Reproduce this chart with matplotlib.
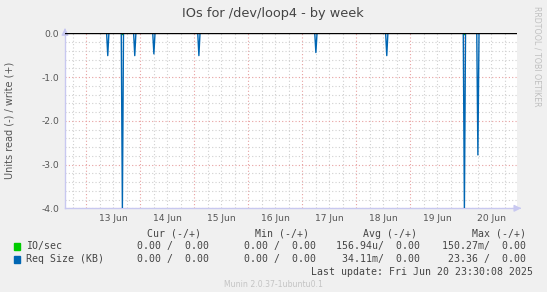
import numpy as np
import matplotlib
matplotlib.use("Agg")
import matplotlib.pyplot as plt

# days counted from 13 Jun 00:00
day_labels = ["13 Jun", "14 Jun", "15 Jun", "16 Jun", "17 Jun", "18 Jun", "19 Jun", "20 Jun"]
t_start, t_end = -0.39, 7.98

# read side (negative) spikes of Req Size (KB)
spike_days = [0.394, 0.672, 0.894, 1.265, 2.08, 4.26, 5.56, 7.0, 7.265]
spike_vals = [-0.51, -4.0, -0.51, -0.47, -0.51, -0.44, -0.51, -4.0, -2.78]
# IO/sec read spikes (hidden mostly under the blue ones)
io_days = [0.672, 7.0]
io_vals = [-0.03, -0.03]

y_ticks = [0.0, -1.0, -2.0, -3.0, -4.0]

legend_rows = [
    ("IO/sec", "#00cc00", ["0.00 /  0.00", "0.00 /  0.00", "156.94u/  0.00", "150.27m/  0.00"]),
    ("Req Size (KB)", "#0066b3", ["0.00 /  0.00", "0.00 /  0.00", "34.11m/  0.00", "23.36 /  0.00"]),
]
col_heads = ["Cur (-/+)", "Min (-/+)", "Avg (-/+)", "Max (-/+)"]

# 30 minute samples like rrd week view
t = np.arange(t_start, t_end, 1 / 48)
req = np.zeros_like(t)
for d, v in zip(spike_days, spike_vals):
    req[np.argmin(np.abs(t - d))] = v
io = np.zeros_like(t)
for d, v in zip(io_days, io_vals):
    io[np.argmin(np.abs(t - d))] = v

W, H = 547, 292
bg = "#f0f0f0"
fig = plt.figure(figsize=(W / 100, H / 100), dpi=100, facecolor=bg)
ax = fig.add_axes([65 / W, 1 - 208.3 / H, (517 - 65) / W, 175 / H])
ax.set_facecolor("white")
ax.set_xlim(t_start, t_end)
ax.set_ylim(-4.0, 0.0)

# grid
for x in np.arange(-0.25, t_end, 0.25):
    major = abs(x - round(x)) < 1e-6
    ax.axvline(x, color="#e8a0a0" if major else "#d0d0d0", lw=0.8,
               ls=(0, (1, 2)), zorder=1)
for y in np.arange(-4.0, 0.01, 0.2):
    major = abs(y - round(y)) < 1e-6
    ax.axhline(y, color="#e8a0a0" if major else "#d0d0d0", lw=0.8,
               ls=(0, (1, 2)), zorder=1)

ax.plot(t, io, color="#00cc00", lw=1, zorder=3)
ax.plot(t, req, color="#0066b3", lw=1, zorder=4)
ax.axhline(0, color="black", lw=1, zorder=5)

for s in ["top", "right"]:
    ax.spines[s].set_visible(False)
for s in ["left", "bottom"]:
    ax.spines[s].set_color("#c8c8f0")
    ax.spines[s].set_linewidth(1)

ax.set_yticks(y_ticks)
ax.set_yticklabels(["%.1f" % v for v in y_ticks])
ax.set_xticks([i + 0.5 for i in range(len(day_labels))])
ax.set_xticklabels(day_labels)
ax.tick_params(length=0, labelsize=6.6, labelcolor="#555555", pad=4)

# axis arrows
ax.annotate("", xy=(0, 1), xytext=(0, 8), xycoords="axes fraction",
            textcoords="offset pixels",
            arrowprops=dict(arrowstyle="<|-", color="#c8c8f0", lw=1),
            annotation_clip=False)
ax.annotate("", xy=(1.0, 0), xytext=(7, 0), xycoords="axes fraction",
            textcoords="offset pixels",
            arrowprops=dict(arrowstyle="<|-", color="#c8c8f0", lw=1),
            annotation_clip=False)

fig.text(273 / W, 1 - 14 / H, "IOs for /dev/loop4 - by week", ha="center",
         va="center", fontsize=9.3, color="#444444")
fig.text(10 / W, 1 - 120.5 / H, "Units read (-) / write (+)", rotation=90,
         ha="center", va="center", fontsize=7, color="#555555")
fig.text(537.5 / W, 1 - 56 / H, "RRDTOOL / TOBI OETIKER", rotation=270,
         ha="center", va="center", fontsize=5.7, color="#c0c0c0")

mono = dict(family="DejaVu Sans Mono", fontsize=7.1, color="#444444", va="center")
head_right = [200.6, 308.8, 417, 526]
val_right = [209, 316, 420, 526]
for h, x in zip(col_heads, head_right):
    fig.text(x / W, 1 - 234 / H, h, ha="right", **mono)
for (name, col, vals), y in zip(legend_rows, [246.4, 259.3]):
    fig.patches.append(plt.Rectangle(((13.5) / W, 1 - (y + 3.5) / H), 6.5 / W, 6.5 / H,
                                     transform=fig.transFigure, color=col))
    fig.text(26 / W, 1 - y / H, name, ha="left", **mono)
    for v, x in zip(vals, val_right):
        fig.text(x / W, 1 - y / H, v, ha="right", **mono)
fig.text(533 / W, 1 - 272.2 / H, "Last update: Fri Jun 20 23:30:08 2025", ha="right", **mono)
fig.text(273 / W, 1 - 284.8 / H, "Munin 2.0.37-1ubuntu0.1", ha="center", va="center",
         fontsize=5.6, color="#c4c4c4")

fig.savefig("out.png", dpi=100, facecolor=bg)
